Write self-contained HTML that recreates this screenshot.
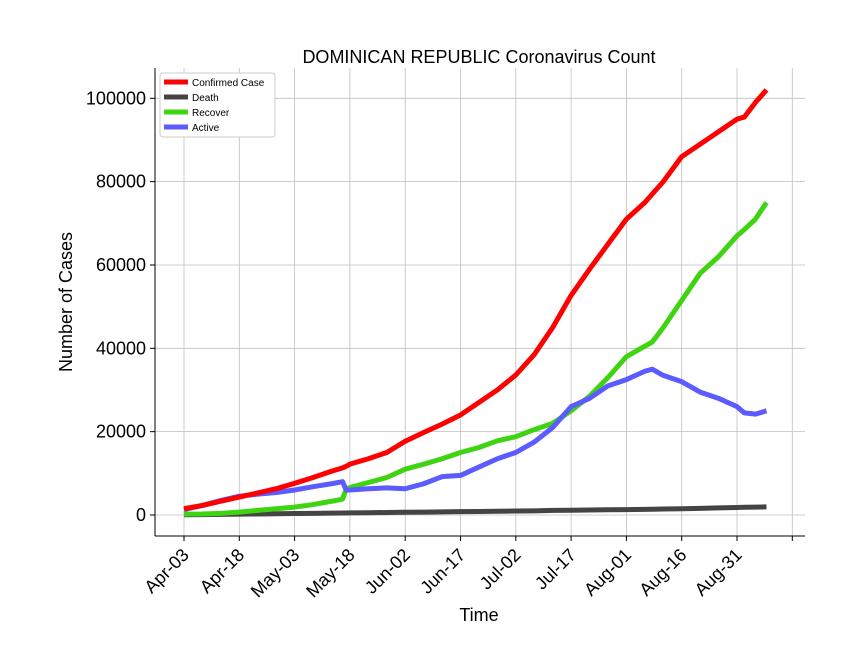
<!DOCTYPE html>
<html><head><meta charset="utf-8"><style>
body{margin:0;background:#fff;}
svg text{font-family:"Liberation Sans","DejaVu Sans",sans-serif;}
</style></head><body>
<svg id="chart" width="864" height="648" xmlns="http://www.w3.org/2000/svg"></svg>
<script>
const days = [0,5,10,15,20,25,30,35,40,43,44,45,50,55,60,65,70,75,80,85,90,95,100,105,110,115,120,125,127,130,135,140,145,150,152,155,158];
const confirmed = [1500,2300,3300,4300,5300,6300,7600,9000,10500,11300,11700,12200,13500,15000,17700,19800,21800,24000,27000,30000,33600,38500,45000,52700,59000,65000,71000,75000,77000,80000,86000,89000,92000,95000,95500,99000,102000];
const recover = [200,250,400,700,1100,1500,1900,2500,3300,3800,6200,6600,7800,9000,11000,12200,13500,15000,16200,17800,18800,20500,22000,25000,28500,33000,38000,40500,41500,45000,51500,58000,62000,67000,68500,71000,75000];
const active = [1300,2300,3500,4500,5000,5400,6000,6800,7500,8000,6000,6000,6300,6500,6300,7500,9200,9500,11500,13500,15000,17500,21000,26000,28000,31000,32500,34500,35000,33500,32000,29500,28000,26000,24500,24200,25000];
const death = [60,100,150,200,250,300,350,400,450,480,490,500,550,600,650,700,750,800,850,900,950,1000,1100,1150,1200,1250,1300,1350,1380,1450,1500,1600,1700,1800,1850,1900,1950];
const yTicks = [0,20000,40000,60000,80000,100000];
const xTickDays = [0,15,30,45,60,75,90,105,120,135,150,165];
const xTickLabels = ["Apr-03","Apr-18","May-03","May-18","Jun-02","Jun-17","Jul-02","Jul-17","Aug-01","Aug-16","Aug-31",""];

const L=155,R=805,T=68,B=536;
const xs=d=>184+d*(55.3/15);
const ys=v=>515-v*(416.7/100000);
const svg=document.getElementById('chart');
const NS='http://www.w3.org/2000/svg';
function mk(tag,attrs,parent){const e=document.createElementNS(NS,tag);for(const k in attrs)e.setAttribute(k,attrs[k]);(parent||svg).appendChild(e);return e;}

const grid=mk('g',{});


yTicks.forEach((v,i)=>{
  mk('line',{x1:L,x2:R,y1:ys(v),y2:ys(v),stroke:'#bfbfbf','stroke-width':0.8},grid);
  mk('line',{x1:L-5,x2:L,y1:ys(v),y2:ys(v),stroke:'#000'},grid);
  const t=mk('text',{x:L-9,y:ys(v)+6,'text-anchor':'end','font-size':18});
  t.textContent=v;
  
  
});
xTickDays.forEach((d,i)=>{
  mk('line',{x1:xs(d),x2:xs(d),y1:T,y2:B,stroke:'#bfbfbf','stroke-width':0.8},grid);
  mk('line',{x1:xs(d),x2:xs(d),y1:B,y2:B+5,stroke:'#000'},grid);
  if(xTickLabels[i]){
    const x=xs(d),y=B+12;
    const t=mk('text',{x:x+6,y:y+8,'text-anchor':'end','font-size':18,transform:`rotate(-45 ${x+6} ${y+8})`});
    t.textContent=xTickLabels[i];
    
    
  }
});
mk('line',{x1:L,x2:L,y1:T,y2:B,stroke:'#000'});
mk('line',{x1:L,x2:R,y1:B,y2:B,stroke:'#000'});

function series(vals,color,name){
  const p=mk('polyline',{points:days.map((d,i)=>xs(d)+','+ys(vals[i])).join(' '),fill:'none',stroke:color,'stroke-width':5,'stroke-linejoin':'round'});
  
  
}
series(death,'#444444','death-line');
series(recover,'#3fd411','recover-line');
series(active,'#5b5bff','active-line');
series(confirmed,'#ff0000','confirmed-line');

let t=mk('text',{x:479,y:63,'text-anchor':'middle','font-size':18});t.textContent='DOMINICAN REPUBLIC Coronavirus Count';


t=mk('text',{x:479,y:621,'text-anchor':'middle','font-size':18});t.textContent='Time';


t=mk('text',{x:72,y:302,'text-anchor':'middle','font-size':18,transform:'rotate(-90 72 302)'});t.textContent='Number of Cases';



const lg=mk('g',{});


mk('rect',{x:160,y:73,width:115,height:64,fill:'#fff',stroke:'#ccc',rx:3},lg);
[['Confirmed Case','#ff0000'],['Death','#444444'],['Recover','#3fd411'],['Active','#5b5bff']].forEach((e,i)=>{
  const y=82+i*15;
  mk('line',{x1:164,x2:188,y1:y,y2:y,stroke:e[1],'stroke-width':5},lg);
  const tt=mk('text',{x:192,y:y+4,'font-size':10},lg);tt.textContent=e[0];
  
  
});
</script>
</body></html>
